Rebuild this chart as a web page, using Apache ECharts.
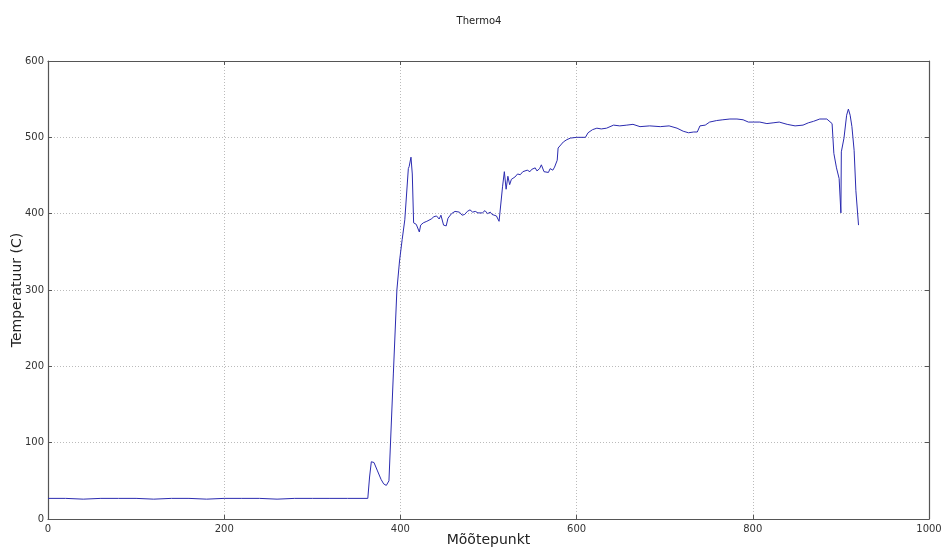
<!DOCTYPE html>
<html>
<head>
<meta charset="utf-8">
<title>Thermo4</title>
<script src="https://cdn.jsdelivr.net/npm/echarts@6/dist/echarts.min.js"></script>
<style>
  html, body { margin: 0; padding: 0; background: #fff; }
  #chart { width: 941px; height: 550px; }
</style>
</head>
<body>
<div id="chart"></div>
<script>
// Measurement point index (x) and thermocouple temperature in °C (y)
const measurePoints = [
  0, 20, 40, 60, 80, 100, 120, 140, 160, 180, 200, 220, 240, 260, 280, 300, 320, 340, 363,
  365, 367, 370, 374, 378, 381, 384, 387, 389,
  392, 396, 399, 402, 405, 409, 410, 412, 413.5, 415, 418, 420, 421.5, 423, 426, 430, 435,
  438, 441, 444, 446, 449, 452, 454, 458, 462, 467, 470, 473, 476, 479, 482, 485, 488, 490,
  493, 496, 499, 502, 504, 506,
  509, 512, 514, 516, 518, 520, 522, 524, 526, 528, 530, 533, 536, 539, 541, 544, 547, 549,
  551, 553, 555, 558, 560,
  563, 565, 568, 570, 573, 575, 577, 578, 579, 582, 585, 589, 593, 600, 605, 610, 613, 618, 623,
  628, 634, 642, 649, 657, 664, 672, 683, 695, 705, 714, 721, 727, 733, 737, 740,
  741, 746, 751, 752, 759, 766, 774, 782, 789, 795, 801, 808, 816, 823, 830, 839,
  848, 857, 863, 869, 876, 884, 890, 892, 895, 898, 900, 900.5, 903.5, 906.5, 908.5,
  910.5, 912.5, 915, 917, 920, 922.5
];
const temperatures = [
  27, 27, 26, 27, 27, 27, 26, 27, 27, 26, 27, 27, 27, 26, 27, 27, 27, 27, 27,
  55, 75, 74, 63, 52, 46, 44, 50, 51,
  190, 300, 338, 366, 392, 459, 462, 474, 452, 388, 386, 384, 376, 385, 388, 390, 393,
  396, 397, 393, 398, 385, 384, 394, 400, 403, 402, 398, 399, 403, 405, 402, 403, 401, 402,
  401, 404, 400, 402, 399, 400,
  397, 390, 389, 436, 455, 432, 449, 438, 445, 443, 448, 452, 451, 455, 453, 457, 455, 458,
  457, 460, 456, 459, 464,
  455, 456, 454, 459, 457, 461, 460, 470, 486, 490, 494, 497, 499, 500, 500, 500, 506, 510,
  512, 511, 512, 516, 515, 516, 517, 514, 515, 514, 515, 512, 508, 506, 507, 507,
  515, 515, 516, 520, 521, 522, 523, 524, 524, 523, 520, 520, 520, 518, 519, 520,
  517, 515, 516, 519, 521, 524, 524, 518, 479, 460, 446, 401, 481, 499, 529,
  537, 529, 514, 483, 430, 385
];

// Axis ticks
const xTicks = [0, 200, 400, 600, 800, 1000];
const yTicks = [0, 100, 200, 300, 400, 500, 600];

const seriesData = measurePoints.map((x, i) => [x, temperatures[i]]);

const chart = echarts.init(document.getElementById('chart'), null, { renderer: 'canvas' });

const tickFont = { color: '#333', fontSize: 10, fontFamily: 'DejaVu Sans', formatter: v => String(v) };
const frameLine = { show: true, onZero: false, lineStyle: { color: '#555', width: 1.2 } };
const gridLine = { show: true, lineStyle: { color: '#bbb', type: [1, 2], width: 1 } };
const innerTick = { show: true, inside: true, length: 4, lineStyle: { color: '#555' } };

chart.setOption({
  animation: false,
  backgroundColor: '#fff',
  title: {
    text: 'Thermo4',
    left: 474,
    top: 11,
    textAlign: 'center',
    textStyle: { fontSize: 10, fontWeight: 'normal', color: '#222', fontFamily: 'DejaVu Sans' }
  },
  grid: { left: 48, right: 12, top: 61, bottom: 31, containLabel: false, outerBoundsMode: 'none', show: false },
  xAxis: [{
    type: 'value',
    min: xTicks[0],
    max: xTicks[xTicks.length - 1],
    interval: 200,
    name: 'Mõõtepunkt',
    nameLocation: 'middle',
    nameGap: 14,
    nameMoveOverlap: false,
    nameTextStyle: { fontSize: 14, color: '#222', fontFamily: 'DejaVu Sans' },
    axisLine: frameLine,
    axisTick: innerTick,
    axisLabel: Object.assign({ margin: 5 }, tickFont),
    splitLine: gridLine
  }, {
    type: 'value',
    position: 'top',
    min: xTicks[0],
    max: xTicks[xTicks.length - 1],
    interval: 200,
    axisLine: frameLine,
    axisTick: innerTick,
    axisLabel: { show: false },
    splitLine: { show: false }
  }],
  yAxis: [{
    type: 'value',
    min: yTicks[0],
    max: yTicks[yTicks.length - 1],
    interval: 100,
    name: 'Temperatuur (C)',
    nameLocation: 'middle',
    nameGap: 24,
    nameRotate: 90,
    nameMoveOverlap: false,
    nameTextStyle: { fontSize: 14, color: '#222', fontFamily: 'DejaVu Sans' },
    axisLine: frameLine,
    axisTick: innerTick,
    axisLabel: Object.assign({ margin: 4 }, tickFont),
    splitLine: gridLine
  }, {
    type: 'value',
    position: 'right',
    min: yTicks[0],
    max: yTicks[yTicks.length - 1],
    interval: 100,
    axisLine: frameLine,
    axisTick: innerTick,
    axisLabel: { show: false },
    splitLine: { show: false }
  }],
  series: [{
    type: 'line',
    xAxisIndex: 0,
    yAxisIndex: 0,
    data: seriesData,
    showSymbol: false,
    symbol: 'none',
    smooth: false,
    lineStyle: { color: '#2b2bb0', width: 1 },
    z: 3
  }]
});
</script>
</body>
</html>
